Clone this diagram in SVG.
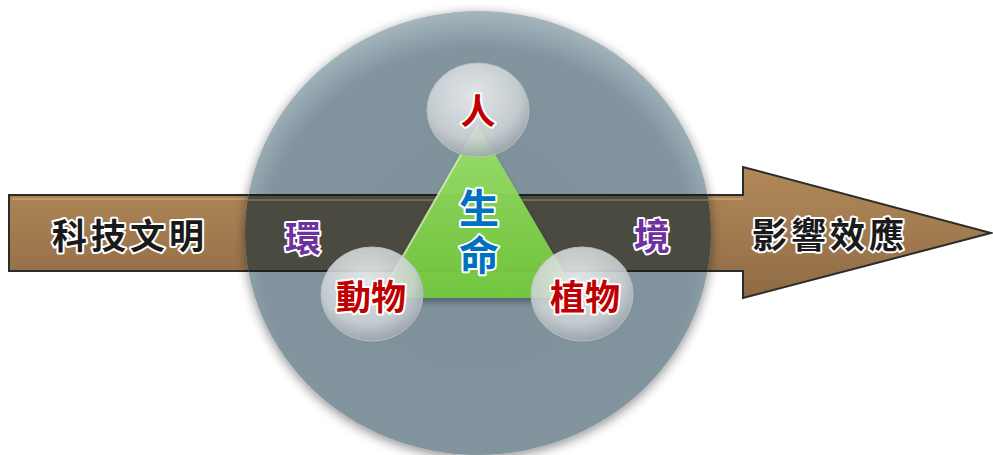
<svg xmlns="http://www.w3.org/2000/svg" width="993" height="455" viewBox="0 0 993 455">
  <defs>
    <linearGradient id="brown" x1="0" y1="0" x2="0" y2="1">
      <stop offset="0" stop-color="#b08858"/>
      <stop offset="0.5" stop-color="#a27b50"/>
      <stop offset="1" stop-color="#8e6a44"/>
    </linearGradient>
    <radialGradient id="bigFill" cx="0.5" cy="0.55" r="0.55">
      <stop offset="0" stop-color="#7d909a"/>
      <stop offset="0.85" stop-color="#82959f"/>
      <stop offset="1" stop-color="#a5b6be"/>
    </radialGradient>
    <radialGradient id="smallFill" cx="0.45" cy="0.35" r="0.65">
      <stop offset="0" stop-color="#eceff0" stop-opacity="0.9"/>
      <stop offset="0.7" stop-color="#d0d5d8" stop-opacity="0.85"/>
      <stop offset="1" stop-color="#9ea7ad" stop-opacity="0.9"/>
    </radialGradient>
    <linearGradient id="green" x1="0" y1="0" x2="0" y2="1">
      <stop offset="0" stop-color="#9be06a"/>
      <stop offset="1" stop-color="#72c93c"/>
    </linearGradient>
    <filter id="shadow" x="-20%" y="-20%" width="140%" height="140%">
      <feGaussianBlur in="SourceAlpha" stdDeviation="6"/>
      <feOffset dx="0" dy="3" result="b"/>
      <feComponentTransfer><feFuncA type="linear" slope="0.45"/></feComponentTransfer>
      <feMerge><feMergeNode/><feMergeNode in="SourceGraphic"/></feMerge>
    </filter>
    <filter id="soft" x="-20%" y="-20%" width="140%" height="140%">
      <feGaussianBlur in="SourceAlpha" stdDeviation="3"/>
      <feOffset dx="0" dy="4"/>
      <feComponentTransfer><feFuncA type="linear" slope="0.35"/></feComponentTransfer>
      <feMerge><feMergeNode/><feMergeNode in="SourceGraphic"/></feMerge>
    </filter>
    <clipPath id="bigClip">
      <ellipse cx="478" cy="233" rx="233" ry="222"/>
    </clipPath>
  </defs>
  <style>
    .t { font-family: "Noto Sans CJK TC", "Noto Sans CJK SC", sans-serif; font-weight: bold; text-anchor: middle; dominant-baseline: central; paint-order: stroke; stroke: #ffffff; stroke-linejoin: round; }
    .black { fill: #1a1a1a; stroke-width: 4; font-size: 35px; letter-spacing: 4px; }
    .purple { fill: #7030a0; stroke-width: 4; font-size: 36px; }
    .red { fill: #c00000; stroke-width: 4; font-size: 35px; }
    .blue { fill: #0070c0; stroke-width: 4; font-size: 40px; }
    .vert { writing-mode: vertical-rl; letter-spacing: 7px; dominant-baseline: auto; }
    .small { fill: url(#smallFill); stroke: #b8bfc4; stroke-width: 1; }
  </style>

  <g id="arrow">
    <path d="M9,195 H743 V167 L991,233 L743,298 V271 H9 Z" fill="url(#brown)" stroke="#2b2b2b" stroke-width="2"/>
    <line x1="12" y1="199" x2="743" y2="199" stroke="#c9a57a" stroke-width="2" opacity="0.7"/>
  </g>

  <g id="environment">
    <ellipse cx="478" cy="233" rx="233" ry="222" fill="url(#bigFill)" filter="url(#shadow)"/>
    <g clip-path="url(#bigClip)">
      <rect x="240" y="195" width="480" height="76" fill="#4b4a41"/>
      <line x1="240" y1="195" x2="720" y2="195" stroke="#1f1f1c" stroke-width="2"/>
      <line x1="240" y1="200" x2="720" y2="200" stroke="#6e6a5a" stroke-width="2"/>
      <line x1="240" y1="271" x2="720" y2="271" stroke="#1f1f1c" stroke-width="2"/>
    </g>
    <text class="t purple" x="303" y="236">環</text>
    <text class="t purple" x="652" y="234">境</text>
  </g>

  <g id="life">
    <polygon points="478,125 379,298 579,298" fill="url(#green)" opacity="0.95" filter="url(#soft)"/>
    <line x1="478" y1="125" x2="379" y2="298" stroke="#d6f2b8" stroke-width="2" opacity="0.8"/>
    <text class="t blue vert" x="479" y="235">生命</text>
  </g>

  <g id="human">
    <ellipse class="small" cx="478" cy="110" rx="51" ry="47"/>
    <text class="t red" x="478" y="108">人</text>
  </g>

  <g id="animal">
    <ellipse class="small" cx="372" cy="294" rx="51" ry="47"/>
    <text class="t red" x="371" y="294">動物</text>
  </g>

  <g id="plant">
    <ellipse class="small" cx="582" cy="294" rx="51" ry="47"/>
    <text class="t red" x="585" y="294">植物</text>
  </g>

  <g id="tech">
    <text class="t black" x="130" y="233">科技文明</text>
  </g>

  <g id="impact">
    <text class="t black" x="830" y="232">影響效應</text>
  </g>
</svg>
